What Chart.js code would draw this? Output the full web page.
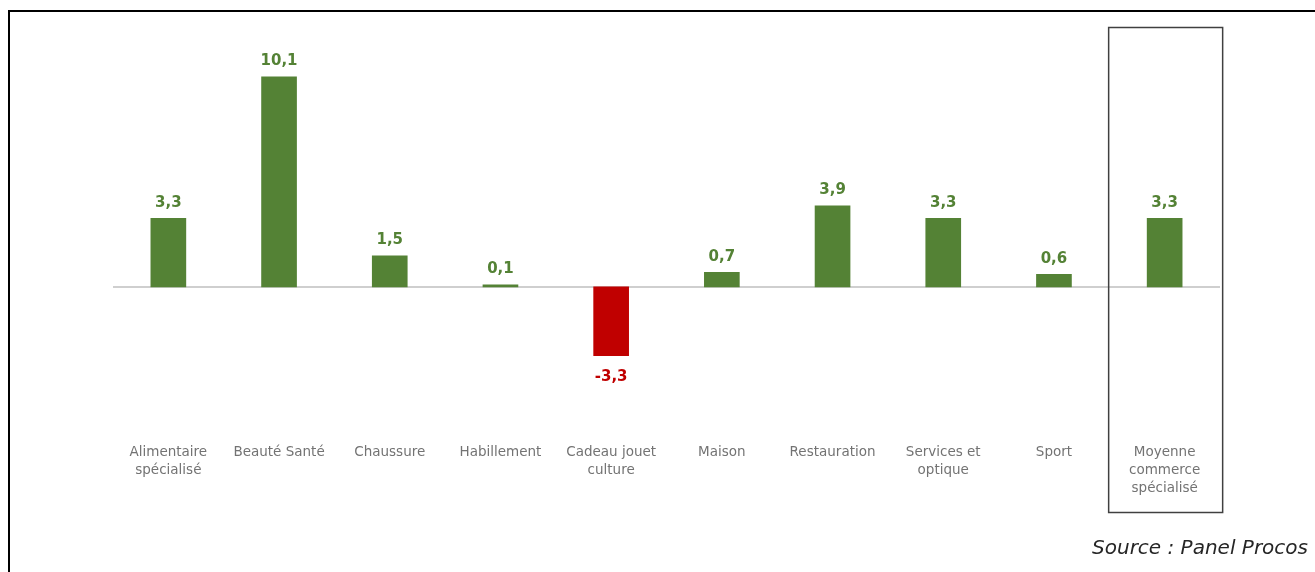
<!DOCTYPE html>
<html>
<head>
<meta charset="utf-8">
<script src="https://cdn.jsdelivr.net/npm/chart.js@4/dist/chart.umd.min.js"></script>
<style>
  html, body { margin: 0; padding: 0; background: #fff; width: 1315px; height: 572px; overflow: hidden; }
  #wrap { position: relative; width: 1315px; height: 572px; }
  #frame { position: absolute; left: 8px; top: 10px; width: 1400px; height: 700px; border: 2px solid #000; box-sizing: border-box; }
  canvas { position: absolute; left: 0; top: 0; }
  #source { position: absolute; right: 7px; top: 535px; font-family: "DejaVu Sans", sans-serif; font-style: italic; font-size: 20px; color: #262626; }
</style>
</head>
<body>
<div id="wrap">
  <div id="frame"></div>
  <canvas id="c" width="1315" height="572"></canvas>
  <div id="source">Source : Panel Procos</div>
</div>
<script>
const categories = [
  ["Alimentaire", "spécialisé"],
  ["Beauté Santé"],
  ["Chaussure"],
  ["Habillement"],
  ["Cadeau jouet", "culture"],
  ["Maison"],
  ["Restauration"],
  ["Services et", "optique"],
  ["Sport"],
  ["Moyenne", "commerce", "spécialisé"]
];
const values = [3.3, 10.1, 1.5, 0.1, -3.3, 0.7, 3.9, 3.3, 0.6, 3.3];

const GREEN = '#548235';
const RED = '#C00000';
const colors = values.map(v => v < 0 ? RED : GREEN);
const fmt = v => v.toFixed(1).replace('.', ',');

const overlay = {
  id: 'overlay',
  beforeDatasetsDraw(chart) {
    const {ctx, chartArea, scales} = chart;
    const y0 = scales.y.getPixelForValue(0);
    ctx.save();
    ctx.strokeStyle = '#bfbfbf';
    ctx.lineWidth = 1.5;
    ctx.beginPath();
    ctx.moveTo(chartArea.left, y0);
    ctx.lineTo(chartArea.right, y0);
    ctx.stroke();
    ctx.restore();
  },
  afterDatasetsDraw(chart) {
    const {ctx, scales} = chart;
    const meta = chart.getDatasetMeta(0);
    ctx.save();
    ctx.font = 'bold 15px "DejaVu Sans", sans-serif';
    ctx.textAlign = 'center';
    meta.data.forEach((bar, i) => {
      const v = values[i];
      ctx.fillStyle = v < 0 ? RED : GREEN;
      if (v >= 0) {
        ctx.textBaseline = 'bottom';
        ctx.fillText(fmt(v), bar.x, bar.y - 8);
      } else {
        ctx.textBaseline = 'top';
        ctx.fillText(fmt(v), bar.x, bar.y + 14);
      }
    });
    const last = values.length - 1;
    const cx = scales.x.getPixelForValue(last);
    ctx.strokeStyle = '#404040';
    ctx.lineWidth = 1.5;
    ctx.strokeRect(cx - 56, 27.5, 114, 485);
    ctx.restore();
  }
};

new Chart(document.getElementById('c'), {
  type: 'bar',
  data: {
    labels: categories,
    datasets: [{
      data: values,
      backgroundColor: colors,
      borderWidth: 0,
      barThickness: 35
    }]
  },
  options: {
    responsive: false,
    animation: false,
    devicePixelRatio: 1,
    layout: { padding: { left: 113, right: 95, top: 58, bottom: 0 } },
    plugins: { legend: { display: false }, tooltip: { enabled: false } },
    scales: {
      x: {
        grid: { display: false },
        border: { display: false },
        ticks: {
          color: '#737373',
          font: { family: '"DejaVu Sans", sans-serif', size: 13.5, lineHeight: 1.33 },
          padding: 3,
          maxRotation: 0,
          autoSkip: false
        },
        afterFit(scale) { scale.height = 139.4; }
      },
      y: {
        min: -7,
        max: 11,
        display: true,
        grid: { display: false },
        border: { display: false },
        ticks: { display: false },
        afterFit(scale) { scale.width = 0; }
      }
    }
  },
  plugins: [overlay]
});
</script>
</body>
</html>
